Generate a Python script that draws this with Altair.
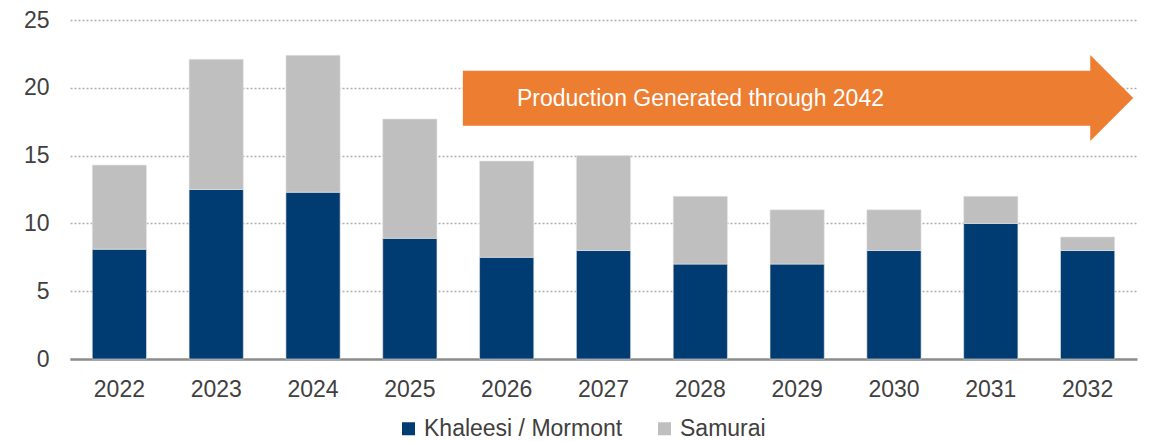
import altair as alt
import pandas as pd

years = ["2022", "2023", "2024", "2025", "2026", "2027", "2028", "2029", "2030", "2031", "2032"]
khaleesi = [8.1, 12.5, 12.3, 8.9, 7.5, 8.0, 7.0, 7.0, 8.0, 10.0, 8.0]
samurai = [6.2, 9.6, 10.1, 8.8, 7.1, 7.0, 5.0, 4.0, 3.0, 2.0, 1.0]
series = ["Khaleesi / Mormont", "Samurai"]
colors = ["#003B71", "#BFBFBF"]

arrow_text = "Production Generated through 2042"
# arrow annotation in data units (x on a 0..11 band-index scale, y in chart units)
arrow_body = {"x": 4.05, "x2": 10.53, "y": 17.2, "y2": 21.25}
arrow_head = {"x": 10.74, "y": 19.25}
arrow_label = {"x": 6.5, "y": 19.2}

rows = []
for i, y in enumerate(years):
    rows.append({"year": y, "series": series[0], "value": khaleesi[i], "ord": 0})
    rows.append({"year": y, "series": series[1], "value": samurai[i], "ord": 1})
df = pd.DataFrame(rows)

W, H = 1067, 339
yscale = alt.Scale(domain=[0, 25])

bars = alt.Chart(df).mark_bar(stroke="#e6e6e6", strokeWidth=0.6).encode(
    x=alt.X("year:N", sort=years, title=None,
            scale=alt.Scale(paddingInner=0.44, paddingOuter=0.23),
            axis=alt.Axis(labelAngle=0, labelFontSize=23, labelColor="#404040",
                          labelFont="Liberation Sans", ticks=False, labelPadding=19,
                          domain=True, domainColor="#8c8c8c", domainWidth=2.5, grid=False)),
    y=alt.Y("value:Q", stack="zero", title=None, scale=yscale,
            axis=alt.Axis(values=[0, 5, 10, 15, 20, 25], labelFontSize=23,
                          labelColor="#404040", labelFont="Liberation Sans",
                          ticks=False, domain=False, labelPadding=21,
                          grid=True, gridColor="#b0b0b0", gridDash=[2, 2], gridWidth=1.5)),
    color=alt.Color("series:N", scale=alt.Scale(domain=series, range=colors),
                    legend=alt.Legend(title=None, orient="none", legendX=327, legendY=397,
                                      direction="horizontal", symbolType="square",
                                      symbolSize=169, symbolStrokeWidth=0,
                                      labelFontSize=23, labelFont="Liberation Sans",
                                      labelColor="#404040", columnPadding=30,
                                      labelOffset=4, padding=0, labelLimit=0)),
    order=alt.Order("ord:Q"),
)

xq = alt.Scale(domain=[0, 11])
body_df = pd.DataFrame([arrow_body])
body = alt.Chart(body_df).mark_rect(color="#ED7D31").encode(
    x=alt.X("x:Q", scale=xq, axis=None),
    x2="x2:Q",
    y=alt.Y("y:Q", scale=yscale),
    y2="y2:Q",
)
head = alt.Chart(pd.DataFrame([arrow_head])).mark_point(
    shape="M-0.5,-1L0.5,0L-0.5,1Z", size=7396, filled=True, opacity=1,
    color="#ED7D31", strokeWidth=0
).encode(
    x=alt.X("x:Q", scale=xq, axis=None),
    y=alt.Y("y:Q", scale=yscale),
)
label = alt.Chart(pd.DataFrame([{**arrow_label, "t": arrow_text}])).mark_text(
    color="white", fontSize=23, font="Liberation Sans", align="center", baseline="middle"
).encode(
    x=alt.X("x:Q", scale=xq, axis=None),
    y=alt.Y("y:Q", scale=yscale),
    text="t:N",
)

chart = alt.layer(bars, body, head, label).resolve_scale(x="independent").properties(
    width=W, height=H,
    autosize=alt.AutoSizeParams(type="none"),
    padding={"left": 62, "top": 12, "right": 8, "bottom": 82},
).configure_view(stroke=None)

chart.save("out.html", embed_options={"renderer": "svg", "actions": False})
